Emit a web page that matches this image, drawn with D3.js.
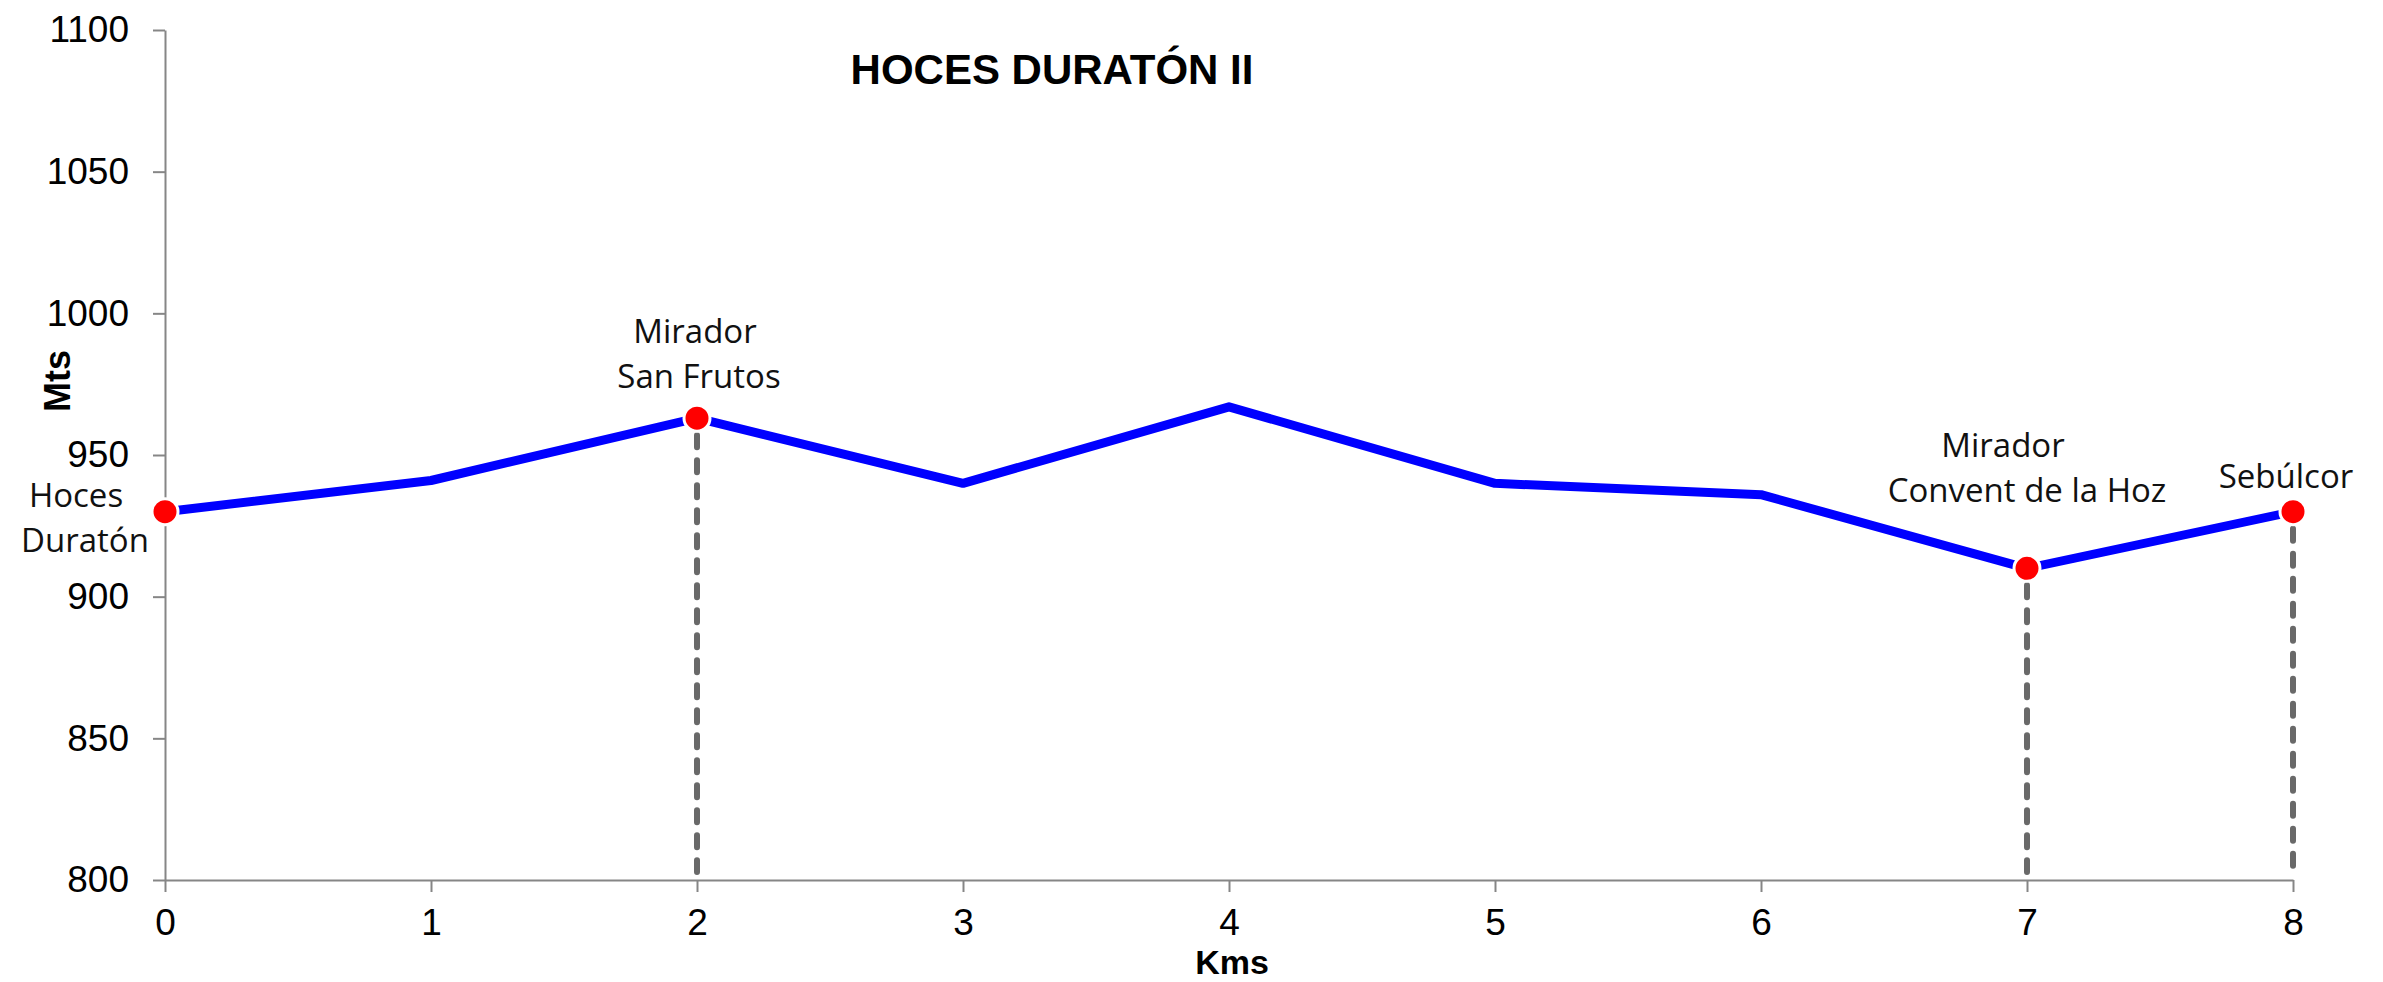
<!DOCTYPE html>
<html>
<head>
<meta charset="utf-8">
<script src="https://cdn.jsdelivr.net/npm/d3@7"></script>
<style>
  body { margin: 0; background: #fff; }
  .axis path, .axis line { stroke: #868686; stroke-width: 2; }
  .axis text { font-family: "Liberation Sans", Arial, sans-serif; font-size: 37px; fill: #000; }
  .ttl { font-family: "Liberation Sans", Arial, sans-serif; font-weight: bold; fill: #000; }
  .wp { font-family: "Open Sans", sans-serif; font-size: 33px; fill: #111; }
</style>
</head>
<body>
<div class="graph-profile"></div>
<script>
// route profile
const kms = [0, 1, 2, 3, 4, 5, 6, 7, 8];
const alts = [930, 941, 963, 940, 967, 940, 936, 910, 930];

// waypoints
const wpKms = [0, 2, 7, 8];
const wpNames = [["Hoces", "Duratón"], ["Mirador", "San Frutos"], ["Mirador", "Convent de la Hoz"], ["Sebúlcor"]];
const dropKms = [2, 7, 8];

const yTicks = [800, 850, 900, 950, 1000, 1050, 1100];
const title = "HOCES DURATÓN II";

const width = 2383;
const height = 982;

// label placement per waypoint, per line: [dx, dy] from marker
const labelPos = [
    [[-89, -5], [-80, 40]],
    [[-2, -75], [2, -30]],
    [[-24, -111], [0, -66]],
    [[-7, -24]]
];

const x = d3.scaleLinear().domain([0, 8]).range([165, 2293]);
const y = d3.scaleLinear().domain([800, 1100]).range([880, 30]);

const svg = d3.select(".graph-profile")
    .append('svg')
    .attr('width', width)
    .attr('height', height);

svg.append('g')
    .attr('class', 'axis')
    .attr('transform', 'translate(' + x(0) + ',0)')
    .call(d3.axisLeft(y).tickValues(yTicks).tickSize(12).tickSizeOuter(0).tickPadding(24).tickFormat(d3.format('d')));

svg.append('g')
    .attr('class', 'axis')
    .attr('transform', 'translate(0,' + y(800) + ')')
    .call(d3.axisBottom(x).tickValues(kms).tickSize(12).tickSizeOuter(0).tickPadding(17).tickFormat(d3.format('d')));

// drop lines
svg.selectAll('.drop')
    .data(dropKms)
    .enter()
    .append('line')
    .attr('class', 'drop')
    .attr('x1', d => x(d))
    .attr('x2', d => x(d))
    .attr('y1', d => y(alts[kms.indexOf(d)]) + 17)
    .attr('y2', y(800) - 8)
    .attr('stroke', '#696969')
    .attr('stroke-width', 6)
    .attr('stroke-linecap', 'round')
    .attr('stroke-dasharray', '12,13');

const line = d3.line()
    .x((d, i) => x(kms[i]))
    .y(d => y(d));

svg.append('path')
    .datum(alts)
    .attr('d', line)
    .attr('fill', 'none')
    .attr('stroke', '#0000ff')
    .attr('stroke-width', 9)
    .attr('stroke-linejoin', 'round');

svg.selectAll('.wpt')
    .data(wpKms)
    .enter()
    .append('circle')
    .attr('class', 'wpt')
    .attr('cx', d => x(d))
    .attr('cy', d => y(alts[kms.indexOf(d)]))
    .attr('r', 13)
    .attr('fill', '#ff0000')
    .attr('stroke', '#fff')
    .attr('stroke-width', 3);

wpKms.forEach(function (k, i) {
    const cx = x(k);
    const cy = y(alts[kms.indexOf(k)]);
    wpNames[i].forEach(function (name, j) {
        svg.append('text')
            .attr('class', 'wp')
            .attr('text-anchor', 'middle')
            .attr('x', cx + labelPos[i][j][0])
            .attr('y', cy + labelPos[i][j][1])
            .text(name);
    });
});

svg.append('text')
    .attr('class', 'ttl')
    .attr('text-anchor', 'middle')
    .attr('x', 1052)
    .attr('y', 84)
    .style('font-size', '42px')
    .text(title);

svg.append('text')
    .attr('class', 'ttl')
    .attr('text-anchor', 'middle')
    .attr('x', 1232)
    .attr('y', 974)
    .style('font-size', '34px')
    .text('Kms');

svg.append('text')
    .attr('class', 'ttl')
    .attr('text-anchor', 'middle')
    .attr('transform', 'translate(70,381) rotate(-90)')
    .style('font-size', '36px')
    .text('Mts');
</script>
</body>
</html>
